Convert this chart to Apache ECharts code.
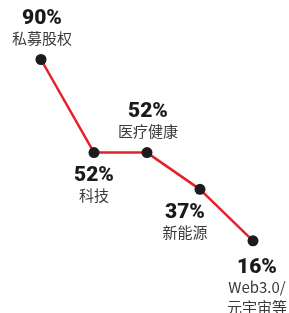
<!DOCTYPE html>
<html>
<head>
<meta charset="utf-8">
<script src="https://cdn.jsdelivr.net/npm/echarts@6/dist/echarts.min.js"></script>
<style>
  html, body { margin: 0; padding: 0; background: #fff; }
  #chart { width: 289px; height: 313px; }
</style>
</head>
<body>
<div id="chart"></div>
<script>
const categories = ['私募股权', '科技', '医疗健康', '新能源', 'Web3.0/\n元宇宙等'];
const values = [90, 52, 52, 37, 16];
// label placement per point
const labelPos = ['top', 'bottom', 'top', 'bottom', 'bottom'];
const labelOffset = [[1, 0], [0, 2], [1, 0], [-15, 2], [4, 6]];

const chart = echarts.init(document.getElementById('chart'));

const seriesData = values.map((v, i) => ({
  value: v,
  label: {
    position: labelPos[i],
    offset: labelOffset[i],
  },
}));

chart.setOption({
  animation: false,
  grid: {
    left: 41,
    right: 36,
    top: 35,
    bottom: 33,
  },
  xAxis: {
    type: 'category',
    data: categories,
    boundaryGap: false,
    show: false,
  },
  yAxis: {
    type: 'value',
    min: 0,
    max: 100,
    show: false,
  },
  series: [
    {
      type: 'line',
      data: seriesData,
      symbol: 'circle',
      symbolSize: 11,
      lineStyle: {
        color: '#e5202a',
        width: 2.5,
      },
      itemStyle: {
        color: '#1c1c1c',
      },
      label: {
        show: true,
        distance: 6,
        align: 'center',
        formatter: (p) => {
          const lines = categories[p.dataIndex].split('\n').map((s) => '{n|' + s + '}');
          return '{v|' + p.value + '%}\n' + lines.join('\n');
        },
        rich: {
          v: {
            fontFamily: 'Roboto',
            fontWeight: 900,
            fontSize: 21,
            lineHeight: 19,
            color: '#1a1a1a',
            align: 'center',
          },
          n: {
            fontFamily: 'Noto Sans CJK SC',
            fontSize: 15,
            lineHeight: 20,
            color: '#3a3a3a',
            align: 'center',
          },
        },
      },
    },
  ],
});
</script>
</body>
</html>
